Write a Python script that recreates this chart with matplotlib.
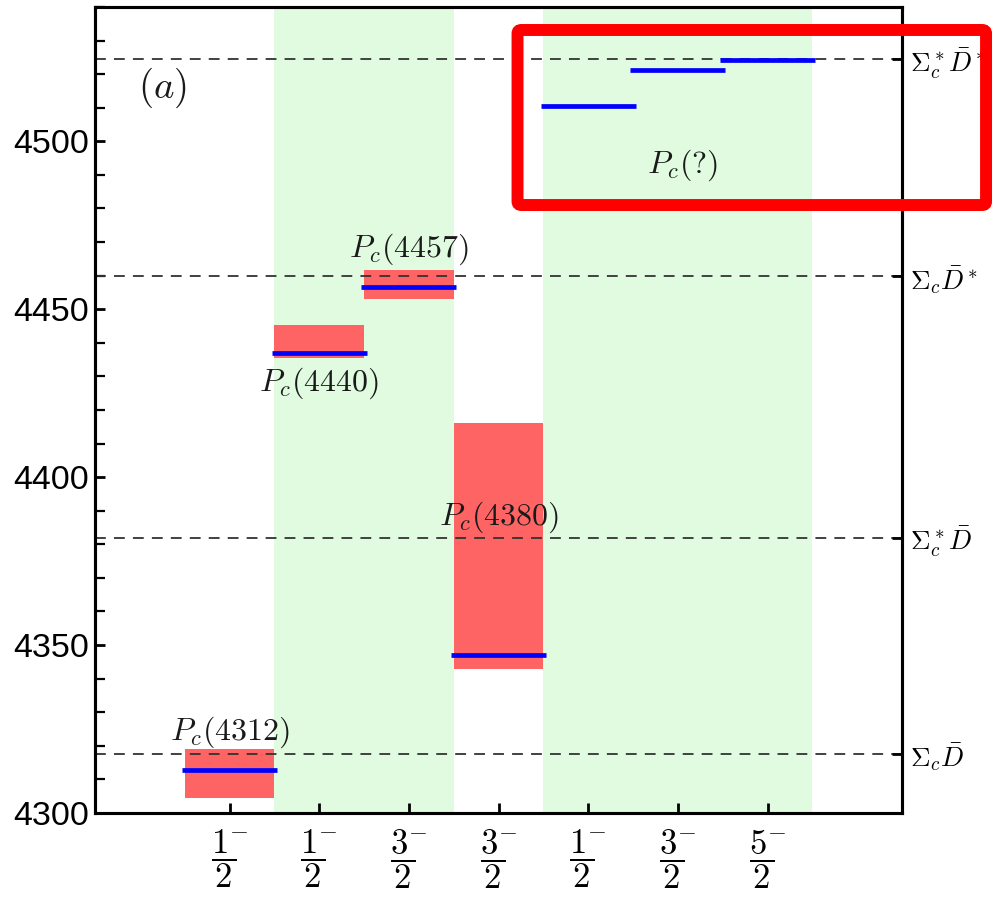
import numpy as np
import matplotlib
matplotlib.use('Agg')
import matplotlib.pyplot as plt
from matplotlib.patches import FancyBboxPatch

plt.rcParams['mathtext.fontset'] = 'cm'
plt.rcParams['font.family'] = ['Liberation Sans', 'DejaVu Sans']

# columns (J^P = num/2 ^-) and their levels
jp_num = ['1', '1', '3', '3', '1', '3', '5']
theory_mass = [4312.8, 4437.1, 4456.7, 4347.1, 4510.4, 4521.1, 4524.3]

# experimental states (first four columns)
exp_names = ['4312', '4440', '4457', '4380']
exp_lo = [4304.5, 4435.6, 4452.9, 4342.9]
exp_hi = [4319.1, 4445.4, 4461.8, 4416.2]
exp_label_x = [1.5, 2.5, 3.5, 4.5]
exp_label_y = [4324.0, 4428.0, 4468.0, 4388.0]

# thresholds
thr_mass = [4317.7, 4382.0, 4459.8, 4524.5]
thr_names = [r'$\Sigma_c\bar{D}$', r'$\Sigma_c^*\bar{D}$',
             r'$\Sigma_c\bar{D}^*$', r'$\Sigma_c^*\bar{D}^*$']

# shaded column groups (first col, last col)
bands = [(2, 3), (5, 7)]

cols = np.arange(1, len(jp_num) + 1)

fig = plt.figure(figsize=(9.92, 8.98), dpi=100)
ax = fig.add_axes([0.0958, 0.0947, 0.8135, 0.8975])

for a, b in bands:
    ax.axvspan(a, b + 1, color='#e1fbe1', lw=0, zorder=0)

ax.bar(cols[:4], np.array(exp_hi) - np.array(exp_lo), bottom=exp_lo, width=1,
       align='edge', color='#ff6464', lw=0, zorder=1)

for m in thr_mass:
    ax.axhline(m, color='#333333', lw=1.3, ls=(0, (6, 4.5)), zorder=2)

ax.hlines(theory_mass, cols - 0.03, cols + 1.03, color='#0000ff', lw=3.4, zorder=3)

tf = dict(fontsize=23, ha='center', va='center', color='#1a1a1a', zorder=4)
for xl, yl, nm in zip(exp_label_x, exp_label_y, exp_names):
    ax.text(xl, yl, r'$P_c(%s)$' % nm, **tf)
ax.text(6.55, 4493, r'$P_c(?)$', **tf)
ax.text(0.75, 4516, r'$(a)$', fontsize=28, ha='center', va='center', color='#1a1a1a')

ax.set_xlim(0, 9)
ax.set_ylim(4300, 4540)
ax.set_xticks(cols + 0.5)
ax.set_xticklabels([r'$\dfrac{%s^{-}\hspace{-0.55}}{2}$' % n for n in jp_num], fontsize=25)
ax.set_yticks(np.arange(4300, 4541, 50))
ax.set_yticks(np.arange(4300, 4541, 10), minor=True)
ax.tick_params(axis='y', labelsize=24.5, direction='in', length=7, width=2, pad=4)
ax.tick_params(axis='y', which='minor', direction='in', length=7, width=1.6)
ax.tick_params(axis='x', direction='in', length=7, width=2, pad=10)
for s in ax.spines.values():
    s.set_linewidth(2.2)

ax2 = ax.twinx()
ax2.set_ylim(ax.get_ylim())
ax2.set_yticks(thr_mass)
ax2.set_yticklabels(thr_names, fontsize=19.5)
ax2.tick_params(axis='y', direction='in', length=7, width=2, pad=6)
for s in ax2.spines.values():
    s.set_linewidth(2.2)

# red highlight box
box = FancyBboxPatch((0.5217, 0.7717), 0.4723, 0.1949, boxstyle='round,pad=0,rounding_size=0.004',
                     transform=fig.transFigure, fill=False, ec='#ff0000', lw=8.6, clip_on=False)
fig.patches.append(box)

fig.savefig('out.png', dpi=100)
